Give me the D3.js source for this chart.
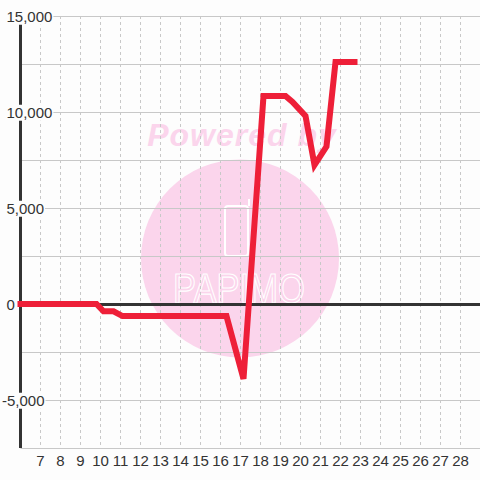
<!DOCTYPE html>
<html>
<head>
<meta charset="utf-8">
<script src="https://cdn.jsdelivr.net/npm/d3@7"></script>
<style>
  html, body { margin: 0; padding: 0; background: #fdfdfd; }
  svg { display: block; }
</style>
</head>
<body>
<div id="chart"></div>
<script>
// day of month (fractional) and cumulative value
const days = [6, 9.8, 10.15, 10.65, 11.1, 16.3, 17.15, 18.15, 19.25, 19.6, 20.25, 20.7, 21.3, 21.75, 22.7];
const values = [0, 0, -380, -380, -630, -630, -3900, 10830, 10830, 10520, 9800, 7240, 8200, 12600, 12600];

const xTicks = d3.range(7, 29);        // 7 .. 28
const yLabels = [15000, 10000, 5000, 0, -5000];
const yGrid = d3.range(-7500, 15001, 2500);

const width = 480, height = 480;
const margin = { top: 16, right: 0, bottom: 32, left: 20.5 };

const svg = d3.select("#chart").append("svg")
  .attr("width", width)
  .attr("height", height);

svg.append("rect")
  .attr("width", width).attr("height", height)
  .attr("fill", "#fdfdfd");

const x = d3.scaleLinear()
  .domain([6, 29])
  .range([margin.left, 480.5]);

const y = d3.scaleLinear()
  .domain([-7500, 15000])
  .range([height - margin.bottom, margin.top]);

// watermark behind the grid
const wm = svg.append("g");
wm.append("text")
  .attr("x", 242).attr("y", 146)
  .attr("text-anchor", "middle")
  .attr("font-family", "Liberation Sans, Arial, sans-serif")
  .attr("font-weight", "bold")
  .attr("font-style", "italic")
  .attr("font-size", 32)
  .attr("letter-spacing", 1)
  .attr("fill", "#fbd5ec")
  .text("Powered by");
wm.append("circle")
  .attr("cx", 240).attr("cy", 258.5).attr("r", 99)
  .attr("fill", "#fbd5ec");
wm.append("rect")
  .attr("x", 225).attr("y", 206).attr("width", 23).attr("height", 50)
  .attr("rx", 3)
  .attr("fill", "none").attr("stroke", "#fff").attr("stroke-width", 2);
wm.append("line")
  .attr("x1", 249).attr("x2", 249).attr("y1", 199).attr("y2", 206)
  .attr("stroke", "#fff").attr("stroke-width", 2);
wm.append("text")
  .attr("x", 173).attr("y", 303)
  .attr("font-family", "Liberation Sans Narrow, Liberation Sans, sans-serif")
  .attr("font-size", 42)
  .attr("textLength", 132)
  .attr("lengthAdjust", "spacingAndGlyphs")
  .attr("fill", "none")
  .attr("stroke", "#fff")
  .attr("stroke-width", 1.2)
  .text("PAPIMO");

// grid
const grid = svg.append("g");
grid.selectAll(".vgrid")
  .data(xTicks.concat([29]))
  .join("line")
    .attr("class", "vgrid")
    .attr("x1", d => x(d)).attr("x2", d => x(d))
    .attr("y1", y(15000)).attr("y2", y(-7500))
    .attr("stroke", "#c8c8c8")
    .attr("stroke-dasharray", "3,3");
grid.selectAll(".hgrid")
  .data(yGrid)
  .join("line")
    .attr("class", "hgrid")
    .attr("x1", x(6)).attr("x2", width)
    .attr("y1", d => Math.round(y(d)) + 0.5).attr("y2", d => Math.round(y(d)) + 0.5)
    .attr("stroke", "#c8c8c8");

// zero line + y axis line
svg.append("line")
  .attr("x1", x(6)).attr("x2", width)
  .attr("y1", y(0) + 0.5).attr("y2", y(0) + 0.5)
  .attr("stroke", "#333").attr("stroke-width", 3);
svg.append("line")
  .attr("x1", x(6)).attr("x2", x(6))
  .attr("y1", y(15000)).attr("y2", y(-7500))
  .attr("stroke", "#333").attr("stroke-width", 3);

// y labels with background boxes hiding the axis
const fmt = d3.format(",");
const yl = svg.append("g")
  .attr("font-family", "Liberation Sans, Arial, sans-serif")
  .attr("font-size", 15)
  .attr("fill", "#333");
yl.selectAll("text")
  .data(yLabels)
  .join("text")
    .attr("x", d => d < 0 ? 2 : 6.5)
    .attr("y", d => y(d) + 0.5)
    .attr("dy", "0.35em")
    .text(d => fmt(d).replace("−", "-"))
    .each(function() {
      const b = this.getBBox();
      d3.select(this.parentNode).insert("rect", () => this)
        .attr("x", b.x - 1).attr("y", b.y + 1)
        .attr("width", b.width + 2).attr("height", b.height - 1)
        .attr("fill", "#fdfdfd");
    });

// x labels
svg.append("g")
  .attr("font-family", "Liberation Sans, Arial, sans-serif")
  .attr("font-size", 15)
  .attr("fill", "#333")
  .attr("text-anchor", "middle")
  .selectAll("text")
  .data(xTicks)
  .join("text")
    .attr("x", d => x(d))
    .attr("y", 466)
    .text(d => d);

// series line
const line = d3.line()
  .x((d, i) => x(days[i]))
  .y(d => y(d));

svg.append("path")
  .datum(values)
  .attr("d", line)
  .attr("fill", "none")
  .attr("stroke", "#ee1f38")
  .attr("stroke-width", 6)
  .attr("stroke-linecap", "square")
  .attr("stroke-linejoin", "miter");
</script>
</body>
</html>
